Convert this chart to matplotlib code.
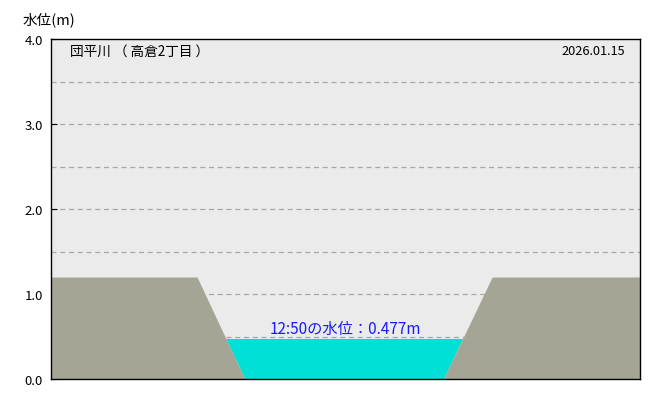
import numpy as np
import matplotlib.pyplot as plt

plt.rcParams['font.family'] = ['Noto Sans CJK JP', 'DejaVu Sans']

# 断面形状（横位置は0-100の相対値）
section_x = [0, 24.8, 32.9, 66.6, 74.9, 100]
section_y = [1.2, 1.2, 0.0, 0.0, 1.2, 1.2]
water_level = 0.477
obs_time = '12:50'
station = '団平川 （ 高倉2丁目 ）'
obs_date = '2026.01.15'
yticks = [0.0, 1.0, 2.0, 3.0, 4.0]

fig = plt.figure(figsize=(6.7, 4.1), dpi=100)
ax = fig.add_axes([51 / 670, 30 / 410, 589 / 670, 340 / 410])
ax.set_facecolor('#ebebeb')
ax.set_xlim(0, 100)
ax.set_ylim(0, 4.0)

# 補助線
for y in np.arange(0.5, 4.0, 0.5):
    ax.axhline(y, color='#a8a8a0', lw=0.9, ls=(0, (4, 3)), zorder=1)

# 水面
xs = np.linspace(0, 100, 2001)
bed = np.interp(xs, section_x, section_y)
ax.fill_between(xs, bed, water_level, where=bed < water_level,
                color='#00e0d6', lw=0, zorder=2)

# 地盤
ax.fill_between(section_x, 0, section_y, color='#a5a596', lw=0, zorder=3)

ax.text(50, water_level + 0.02, f'{obs_time}の水位：{water_level:.3f}m',
        color='#1a1aff', fontsize=11, ha='center', va='bottom', zorder=4)
ax.text(3.2, 3.86, station, fontsize=9.8, ha='left', va='center', zorder=4)
ax.text(97.5, 3.86, obs_date, fontsize=9.2, ha='right', va='center', zorder=4)

ax.set_xticks([])
ax.set_yticks(yticks)
ax.set_yticklabels([f'{v:.1f}' for v in yticks], fontsize=9.5)
ax.tick_params(axis='y', which='major', direction='in', length=4, pad=6)
for s in ax.spines.values():
    s.set_color('black')
    s.set_linewidth(1)
    s.set_zorder(5)

fig.text(23 / 670, 1 - 20 / 410, '水位(m)', fontsize=10.5, ha='left', va='center')

fig.savefig('out.png', dpi=100, facecolor='white')
